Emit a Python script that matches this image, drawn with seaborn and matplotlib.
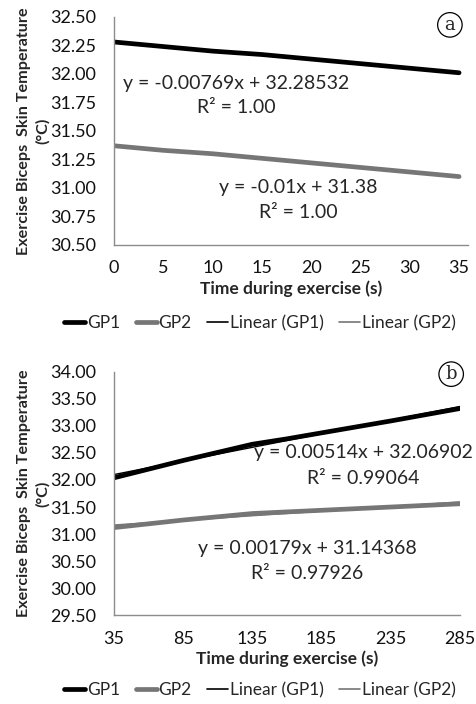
import numpy as np
import pandas as pd
import seaborn as sns
import matplotlib.pyplot as plt
from matplotlib.lines import Line2D

# Panel (a): first 35 s of exercise
time_a = [0, 5, 10, 15, 20, 25, 30, 35]
gp1_a = [32.28, 32.24, 32.20, 32.17, 32.13, 32.09, 32.05, 32.01]
gp2_a = [31.37, 31.33, 31.30, 31.26, 31.22, 31.18, 31.14, 31.10]

# Panel (b): 35 s to 285 s
time_b = [35, 85, 135, 160, 185, 235, 285]
gp1_b = [32.04, 32.36, 32.66, 32.76, 32.87, 33.09, 33.32]
gp2_b = [31.12, 31.26, 31.38, 31.41, 31.44, 31.50, 31.56]

eq_a = ["y = -0.00769x + 32.28532\nR² = 1.00", "y = -0.01x + 31.38\nR² = 1.00"]
eq_b = ["y = 0.00514x + 32.06902\nR² = 0.99064", "y = 0.00179x + 31.14368\nR² = 0.97926"]

sns.set_theme(style="white")
plt.rcParams['font.family'] = ['Lato', 'DejaVu Sans']

BLACK = "#000000"
GRAY = "#767676"
AXC = "#8c8c8c"

fig = plt.figure(figsize=(4.77, 7.04), dpi=100)
ax_a = fig.add_axes([0.239, 0.652, 0.742, 0.324])
ax_b = fig.add_axes([0.239, 0.126, 0.725, 0.346])


def draw_panel(ax, t, g1, g2):
    df = pd.DataFrame({"t": t, "GP1": g1, "GP2": g2})
    sns.lineplot(data=df, x="t", y="GP1", ax=ax, color=BLACK, lw=3.4)
    sns.lineplot(data=df, x="t", y="GP2", ax=ax, color=GRAY, lw=3.4)
    sns.regplot(data=df, x="t", y="GP1", ax=ax, scatter=False, ci=None,
                truncate=True, line_kws=dict(color=BLACK, lw=1.0))
    sns.regplot(data=df, x="t", y="GP2", ax=ax, scatter=False, ci=None,
                truncate=True, line_kws=dict(color=GRAY, lw=1.0))
    for side in ["top", "right"]:
        ax.spines[side].set_visible(False)
    for side in ["left", "bottom"]:
        ax.spines[side].set_color(AXC)
        ax.spines[side].set_linewidth(1.0)
    ax.tick_params(axis="both", direction="out", length=5, width=1.0,
                   color=AXC, labelsize=13, labelcolor="#111111")
    ax.tick_params(axis="y", pad=8)
    ax.tick_params(axis="x", pad=6)
    ax.set_xlabel("Time during exercise (s)", fontsize=12.5,
                  fontweight="bold", labelpad=3)
    ax.set_ylabel("Exercise Biceps  Skin Temperature\n(°C)", fontsize=11.6,
                  fontweight="bold", linespacing=1.35)
    ax.yaxis.set_label_coords(-64 / (ax.get_position().width * 477), 0.5)


# panel a
draw_panel(ax_a, time_a, gp1_a, gp2_a)
ax_a.set_xlim(0, 35.9)
ax_a.set_ylim(30.5, 32.5)
ax_a.set_xticks(np.arange(0, 36, 5))
ax_a.set_yticks(np.arange(30.5, 32.51, 0.25))
ax_a.set_yticklabels([f"{v:.2f}" for v in np.arange(30.5, 32.51, 0.25)])
ax_a.text(0.345, 0.654, eq_a[0], transform=ax_a.transAxes, ha="center",
          va="center", fontsize=14, linespacing=1.5)
ax_a.text(0.52, 0.197, eq_a[1], transform=ax_a.transAxes, ha="center",
          va="center", fontsize=14, linespacing=1.6)
ax_a.text(0.949, 0.965, "a", transform=ax_a.transAxes, ha="center",
          va="center", fontsize=13, family="DejaVu Serif",
          bbox=dict(boxstyle="circle,pad=0.18", fc="white", ec="black", lw=0.9))

# panel b
draw_panel(ax_b, time_b, gp1_b, gp2_b)
ax_b.set_xlim(35, 285)
ax_b.set_ylim(29.5, 34.0)
ax_b.set_xticks(np.arange(35, 286, 50))
ax_b.set_yticks(np.arange(29.5, 34.01, 0.5))
ax_b.set_yticklabels([f"{v:.2f}" for v in np.arange(29.5, 34.01, 0.5)])
ax_b.text(0.72, 0.615, eq_b[0], transform=ax_b.transAxes, ha="center",
          va="center", fontsize=14, linespacing=1.65)
ax_b.text(0.558, 0.222, eq_b[1], transform=ax_b.transAxes, ha="center",
          va="center", fontsize=14, linespacing=1.6)
ax_b.text(0.975, 0.99, "b", transform=ax_b.transAxes, ha="center",
          va="center", fontsize=13, family="DejaVu Serif",
          bbox=dict(boxstyle="circle,pad=0.18", fc="white", ec="black", lw=0.9))

# legends below each panel
handles = [Line2D([], [], color=BLACK, lw=3.4),
           Line2D([], [], color=GRAY, lw=3.4),
           Line2D([], [], color=BLACK, lw=1.2),
           Line2D([], [], color=GRAY, lw=1.2)]
labels = ["GP1", "GP2", "Linear (GP1)", "Linear (GP2)"]
for yy in [1 - 323 / 704, 1 - 690 / 704]:
    fig.legend(handles, labels, loc="center", bbox_to_anchor=(0.545, yy),
               ncol=4, frameon=False, fontsize=12.5, handlelength=1.2,
               handletextpad=0.1, columnspacing=0.9)

fig.savefig("out.png", dpi=100)
